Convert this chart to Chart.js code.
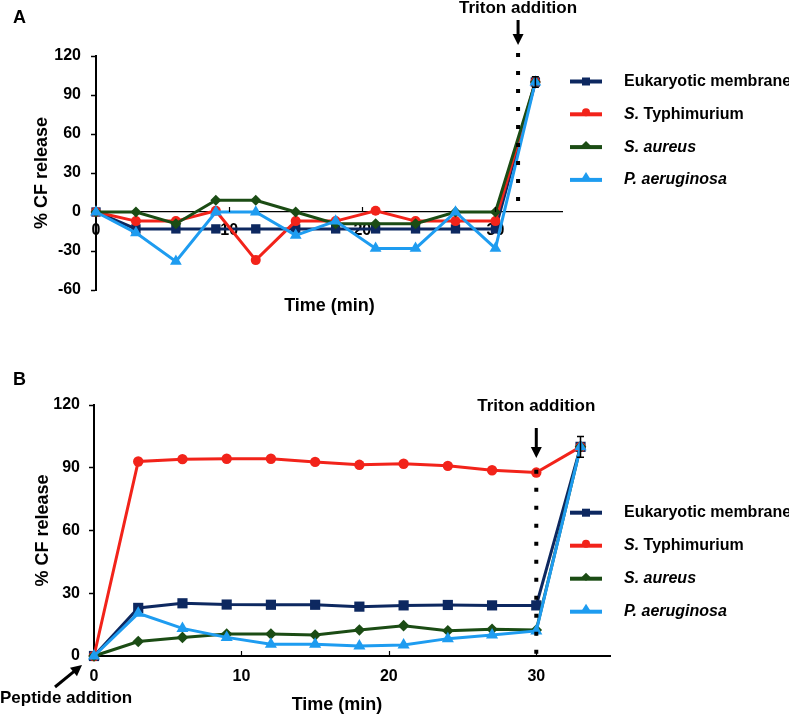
<!DOCTYPE html>
<html>
<head>
<meta charset="utf-8">
<script src="https://cdn.jsdelivr.net/npm/chart.js@4.4.1/dist/chart.umd.min.js"></script>
<style>
  html, body { margin: 0; padding: 0; background: #fff; }
  #wrap { position: relative; width: 789px; height: 715px; }
  canvas { position: absolute; left: 0; }
  #chartA { top: 0; }
  #chartB { top: 330px; }
</style>
</head>
<body>
<div id="wrap">
  <canvas id="chartA" width="789" height="330"></canvas>
  <canvas id="chartB" width="789" height="385"></canvas>
</div>
<script>
// time points (min)
const times = [0, 3, 6, 9, 12, 15, 18, 21, 24, 27, 30, 33];
const xTickLabels = [0, 10, 20, 30];

// legend names, split so the species part can be italic
const legendParts = [
  [{ t: 'Eukaryotic membrane' }],
  [{ t: 'S.', i: true }, { t: ' Typhimurium' }],
  [{ t: 'S. aureus', i: true }],
  [{ t: 'P. aeruginosa', i: true }]
];

// panel A - % CF release
const eukA    = [0, -13, -13, -13, -13, -13, -13, -13, -13, -13, -13, 100];
const typhiA  = [0, -7, -7, 1, -37, -7, -7, 1, -7, -7, -7, 100];
const aureusA = [0, 0, -9, 9, 9, 0, -9, -9, -9, 0, 0, 100];
const aeruA   = [0, -16, -38, 0, 0, -18, -7, -28, -28, 0, -28, 100];
const errA    = [0, 0, 0, 0, 0, 0, 0, 0, 0, 0, 0, 4];

// panel B - % CF release
const eukB    = [0, 23, 25.2, 24.6, 24.5, 24.5, 23.6, 24.2, 24.4, 24.2, 24.2, 100];
const typhiB  = [0, 93, 94.1, 94.3, 94.3, 92.8, 91.4, 91.9, 90.9, 88.8, 87.7, 100];
const aureusB = [0, 6.9, 8.9, 10.5, 10.5, 10, 12.4, 14.5, 12.1, 12.8, 12.4, 100];
const aeruB   = [0, 20.4, 13.2, 8.9, 5.6, 5.6, 4.8, 5.3, 8.3, 10, 12, 100];
const errB    = [0, 0, 0, 0, 0, 0, 0, 0, 0, 0, 0, 5];

const FAMILY = '"Liberation Sans", Arial, Helvetica, sans-serif';
const colors = ['#0d2860', '#f2231a', '#1b4c14', '#1e9cf0'];
const styles = ['rect', 'circle', 'rectRot', 'triangle'];
const orders = [4, 3, 2, 1];

function legendMarker(ctx, style, cx, cy, color) {
  ctx.fillStyle = color;
  ctx.beginPath();
  if (style === 'rect') {
    ctx.rect(cx - 4, cy - 4, 8, 8);
  } else if (style === 'circle') {
    ctx.arc(cx, cy - 2, 4, 0, Math.PI * 2);
  } else if (style === 'rectRot') {
    ctx.moveTo(cx, cy - 6); ctx.lineTo(cx + 5, cy - 1); ctx.lineTo(cx, cy + 2); ctx.lineTo(cx - 5, cy - 1);
  } else {
    ctx.moveTo(cx, cy - 8); ctx.lineTo(cx + 5, cy); ctx.lineTo(cx - 5, cy);
  }
  ctx.closePath();
  ctx.fill();
}

function arrowHead(ctx, x1, y1, x2, y2, len, half) {
  const a = Math.atan2(y2 - y1, x2 - x1);
  ctx.beginPath();
  ctx.moveTo(x2, y2);
  ctx.lineTo(x2 - len * Math.cos(a) + half * Math.sin(a), y2 - len * Math.sin(a) - half * Math.cos(a));
  ctx.lineTo(x2 - len * Math.cos(a) - half * Math.sin(a), y2 - len * Math.sin(a) + half * Math.cos(a));
  ctx.closePath();
  ctx.fill();
}

function arrow(ctx, x1, y1, x2, y2) {
  const a = Math.atan2(y2 - y1, x2 - x1);
  ctx.lineWidth = 3;
  ctx.beginPath();
  ctx.moveTo(x1, y1);
  ctx.lineTo(x2 - 9 * Math.cos(a), y2 - 9 * Math.sin(a));
  ctx.stroke();
  arrowHead(ctx, x1, y1, x2, y2, 11, 5.5);
}

const decor = {
  id: 'decor',
  afterDatasetsDraw(chart, args, o) {
    const { ctx, scales: { x, y } } = chart;
    ctx.save();
    ctx.strokeStyle = '#000';
    ctx.fillStyle = '#000';

    // tick marks on the x axis point inwards
    const y0 = y.getPixelForValue(0);
    ctx.lineWidth = 1.2;
    xTickLabels.forEach(v => {
      if (v === 0) return;
      const px = Math.round(x.getPixelForValue(v)) + 0.5;
      ctx.beginPath(); ctx.moveTo(px, y0); ctx.lineTo(px, y0 - 5); ctx.stroke();
    });

    // error bars
    const base = chart.data.datasets[0].data;
    ctx.lineWidth = 1.5;
    o.err.forEach((e, i) => {
      if (!e) return;
      const px = x.getPixelForValue(times[i]);
      const top = y.getPixelForValue(base[i].y + e);
      const bot = y.getPixelForValue(base[i].y - e);
      ctx.beginPath();
      ctx.moveTo(px, top); ctx.lineTo(px, bot);
      ctx.moveTo(px - 3.5, top); ctx.lineTo(px + 3.5, top);
      ctx.moveTo(px - 3.5, bot); ctx.lineTo(px + 3.5, bot);
      ctx.stroke();
    });

    // Triton addition dotted line
    const t = o.triton;
    const tx = x.getPixelForValue(t.x);
    ctx.lineWidth = 4;
    ctx.setLineDash([4, 14]);
    ctx.beginPath();
    ctx.moveTo(tx, y.getPixelForValue(t.to));
    ctx.lineTo(tx, y.getPixelForValue(t.from));
    ctx.stroke();
    ctx.setLineDash([]);
    ctx.restore();
  },
  afterDraw(chart, args, o) {
    const { ctx, scales: { x } } = chart;
    ctx.save();
    ctx.fillStyle = '#000';
    ctx.strokeStyle = '#000';

    // Triton label and arrow
    const t = o.triton;
    const tx = x.getPixelForValue(t.x);
    ctx.font = 'bold 17px ' + FAMILY;
    ctx.textAlign = 'center';
    ctx.textBaseline = 'alphabetic';
    ctx.fillText('Triton addition', tx, t.textY);
    arrow(ctx, tx, t.arrowTop, tx, t.arrowBottom);

    // Peptide addition
    if (o.peptide) {
      const p = o.peptide;
      ctx.textAlign = 'left';
      ctx.fillText('Peptide addition', p.x, p.y);
      arrow(ctx, p.arrow[0], p.arrow[1], p.arrow[2], p.arrow[3]);
    }

    // x axis title
    ctx.font = 'bold 18px ' + FAMILY;
    ctx.textAlign = 'center';
    ctx.fillText('Time (min)', o.xTitle.x, o.xTitle.y);

    // panel letter
    ctx.textAlign = 'left';
    ctx.fillText(o.panel.text, o.panel.x, o.panel.y);

    // legend
    const L = o.legend;
    chart.data.datasets.forEach((ds, i) => {
      const ly = L.y + i * L.gap;
      ctx.strokeStyle = ds.borderColor;
      ctx.lineWidth = 4;
      ctx.beginPath(); ctx.moveTo(L.x, ly); ctx.lineTo(L.x + 32, ly); ctx.stroke();
      legendMarker(ctx, ds.pointStyle, L.x + 16, ly, ds.borderColor);
      let lx = L.x + 54;
      ctx.fillStyle = '#000';
      ctx.textBaseline = 'middle';
      legendParts[i].forEach(part => {
        ctx.font = (part.i ? 'italic ' : '') + 'bold 16px ' + FAMILY;
        ctx.fillText(part.t, lx, ly);
        lx += ctx.measureText(part.t).width;
      });
    });
    ctx.restore();
  }
};

function makeChart(id, series, cfg) {
  const datasets = series.map((vals, i) => ({
    label: legendParts[i].map(p => p.t).join(''),
    data: vals.map((v, k) => ({ x: times[k], y: v })),
    borderColor: colors[i],
    backgroundColor: colors[i],
    pointBackgroundColor: colors[i],
    pointBorderColor: colors[i],
    pointBorderWidth: 0,
    pointStyle: styles[i],
    pointRadius: cfg.radius[i],
    borderWidth: 3,
    tension: 0,
    clip: false,
    order: orders[i]
  }));
  return new Chart(document.getElementById(id), {
    type: 'line',
    data: { datasets },
    plugins: [decor],
    options: {
      responsive: false,
      animation: false,
      events: [],
      devicePixelRatio: 1,
      layout: { padding: cfg.padding },
      plugins: {
        legend: { display: false },
        tooltip: { enabled: false },
        decor: cfg.decor
      },
      scales: {
        x: {
          type: 'linear',
          min: 0,
          max: 35,
          position: { y: 0 },
          ticks: {
            stepSize: 10,
            autoSkip: false,
            maxRotation: 0,
            padding: cfg.xPad,
            color: '#000',
            font: { family: FAMILY, size: 16, weight: 'bold' },
            callback: v => (xTickLabels.includes(v) ? v : '')
          },
          grid: { drawOnChartArea: false, drawTicks: false },
          border: { color: '#000', width: cfg.xBorder }
        },
        y: {
          min: cfg.yMin,
          max: cfg.yMax,
          ticks: {
            stepSize: 30,
            padding: cfg.yPad,
            color: '#000',
            font: { family: FAMILY, size: 16, weight: 'bold' }
          },
          grid: { drawOnChartArea: false, drawTicks: true, tickLength: 5, tickColor: '#000', tickWidth: 1.5 },
          border: { color: '#000', width: 2 },
          title: {
            display: true,
            text: '% CF release',
            color: '#000',
            font: { family: FAMILY, size: 18, weight: 'bold' },
            padding: { top: cfg.titlePad, bottom: 0 }
          },
          afterFit(s) { s.width = cfg.yWidth; }
        }
      }
    }
  });
}

makeChart('chartA', [eukA, typhiA, aureusA, aeruA], {
  padding: { left: 0, top: 56, right: 227, bottom: 40 },
  yMin: -60, yMax: 120, yWidth: 96, yPad: 10, xPad: 9, xBorder: 1.2, titlePad: 31,
  radius: [6.6, 5, 5.5, 6.8],
  decor: {
    err: errA,
    triton: { x: 31.7, from: -2.3, to: 122.3, textY: 13, arrowTop: 20, arrowBottom: 45 },
    legend: { x: 570, y: 81.5, gap: 32.8 },
    xTitle: { x: 329.5, y: 311 },
    panel: { text: 'A', x: 13, y: 23 }
  }
});

makeChart('chartB', [eukB, typhiB, aureusB, aeruB], {
  padding: { left: 0, top: 75, right: 179, bottom: 59 },
  yMin: 0, yMax: 120, yWidth: 94, yPad: 9, xPad: 11, xBorder: 2, titlePad: 32,
  radius: [7.2, 5.2, 5.8, 7],
  decor: {
    err: errB,
    triton: { x: 30, from: 0.8, to: 89, textY: 81, arrowTop: 98, arrowBottom: 128 },
    peptide: { x: 0, y: 373, arrow: [55, 357, 82, 335] },
    legend: { x: 570, y: 182.7, gap: 33 },
    xTitle: { x: 337, y: 380 },
    panel: { text: 'B', x: 13, y: 55 }
  }
});
</script>
</body>
</html>
